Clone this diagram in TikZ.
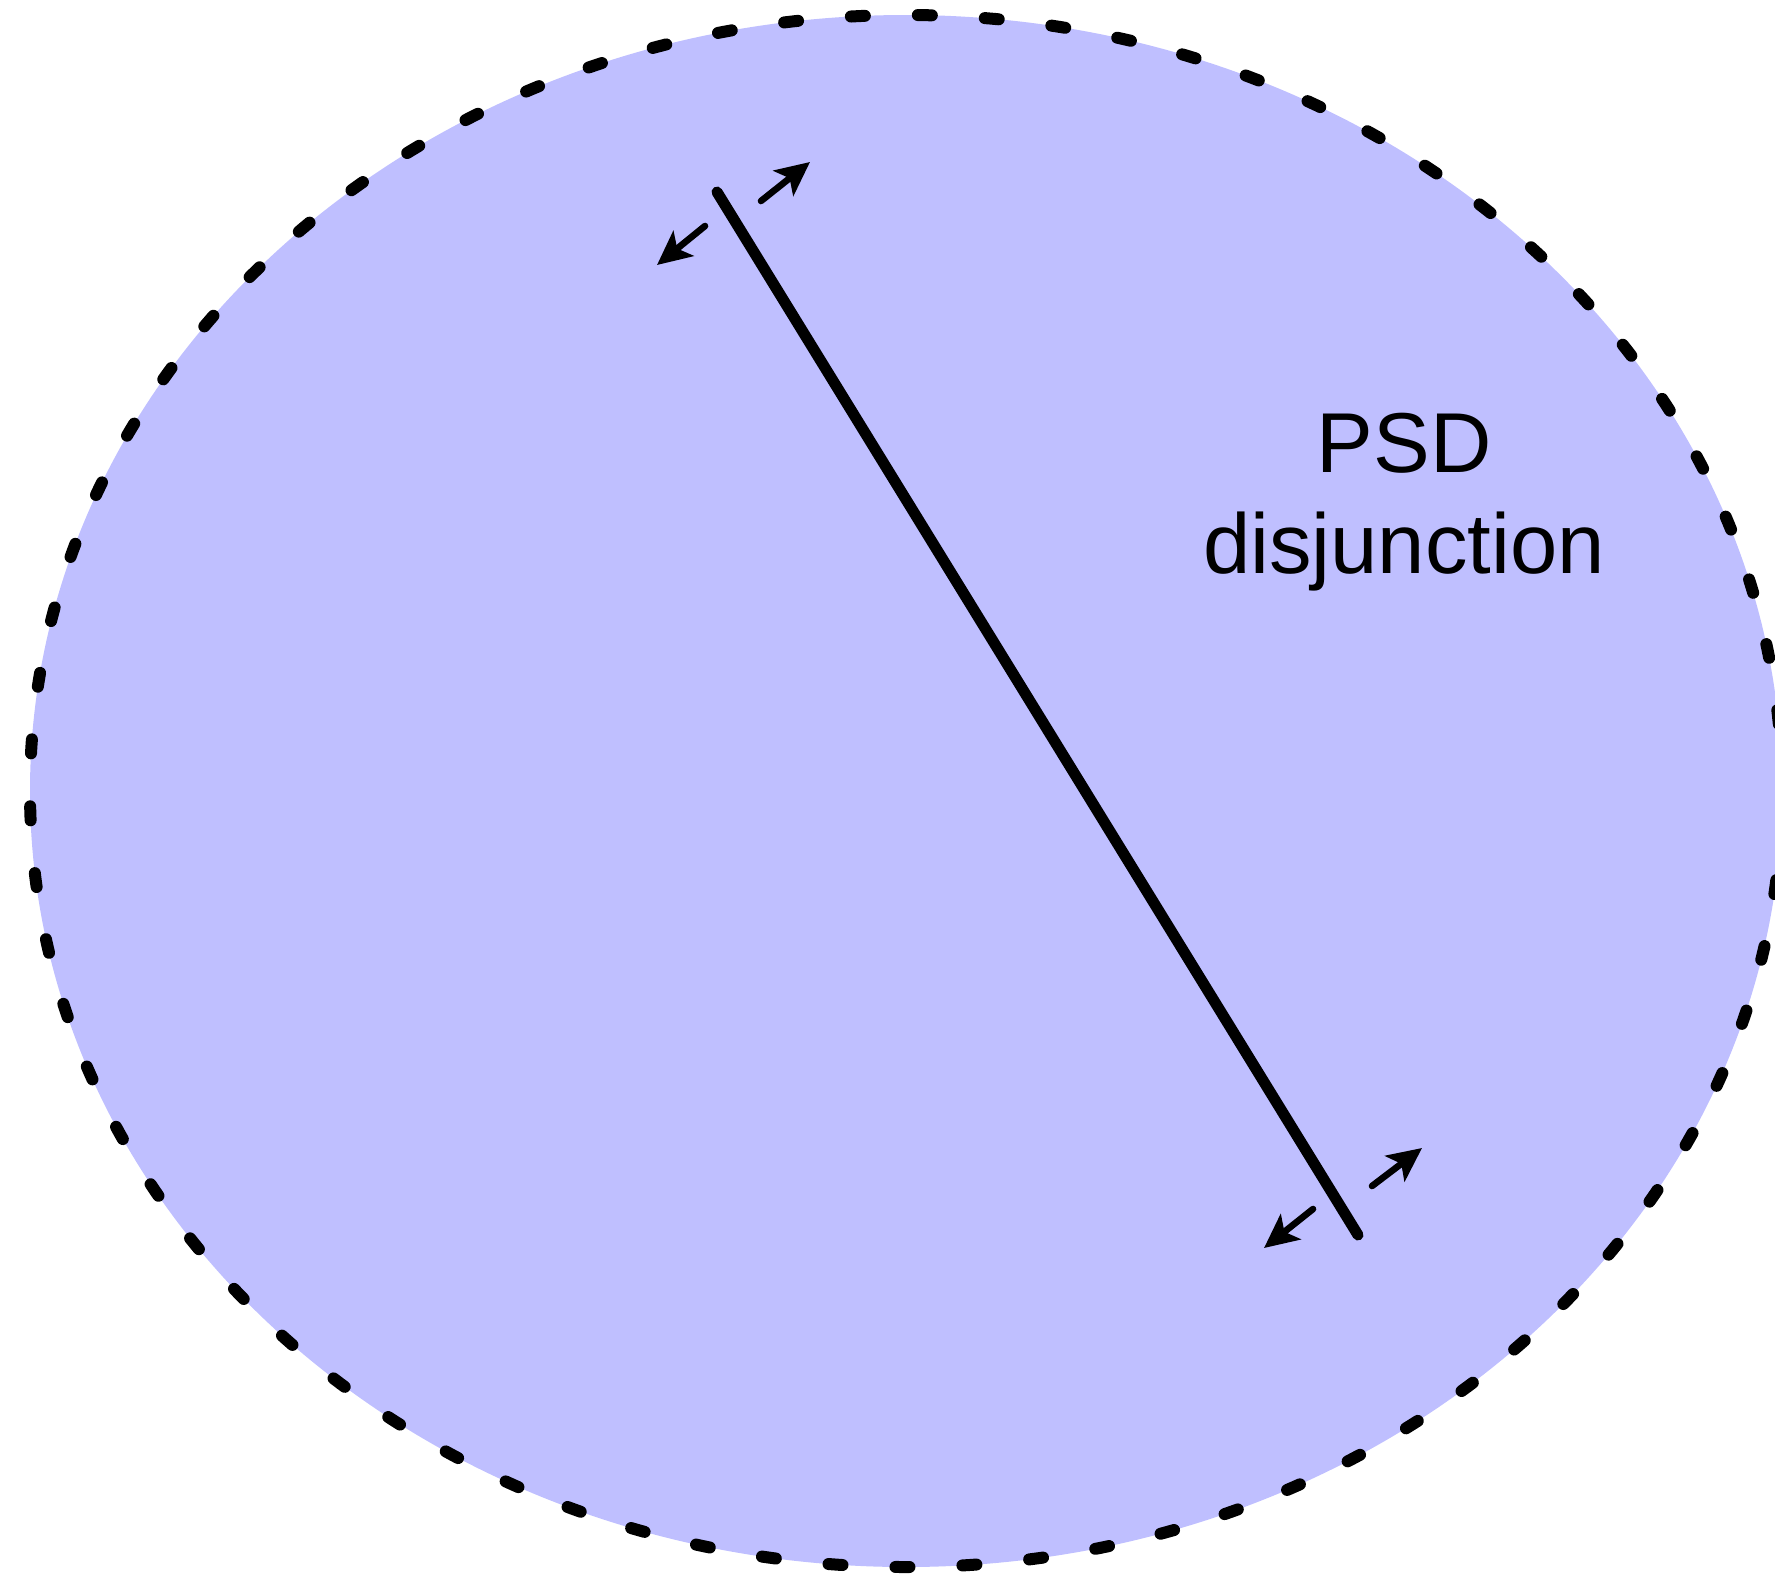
\documentclass[tikz,border=0pt]{standalone}
\usepackage{fontspec}
\setmainfont{Liberation Sans}
\usetikzlibrary{shapes.geometric,arrows.meta}
\definecolor{psdfill}{RGB}{191,191,255}
\tikzset{
  region/.style={ellipse, draw=black, fill=psdfill, line width=6pt, dash pattern=on 7pt off 26.5pt, line cap=round, inner sep=0pt, outer sep=0pt, minimum width=876pt, minimum height=776pt},
  bar/.style={line width=5.5pt, line cap=round},
  push/.style={line width=3.3pt, line cap=round, -{Stealth[length=17pt, width=16pt, inset=4pt]}},
  lbl/.style={font=\fontsize{42.5pt}{51pt}\selectfont, align=center, inner sep=0pt}
}
\begin{document}
\begin{tikzpicture}[x=0.5pt, y=-0.5pt]
\useasboundingbox (0,0) rectangle (1775,1579);
\clip (0,0) rectangle (1775,1579);
\node[region] (psd) at (906,791) {};
\coordinate (a) at (717,192);
\coordinate (b) at (1358,1235);
\draw[bar] (a) -- (b);
\coordinate (a1s) at (705,226);
\coordinate (a1e) at (657,265);
\coordinate (a2s) at (761,201);
\coordinate (a2e) at (810,162);
\coordinate (b1s) at (1313,1209);
\coordinate (b1e) at (1264,1248);
\coordinate (b2s) at (1372,1186);
\coordinate (b2e) at (1422,1148);
\draw[push] (a1s) -- (a1e);
\draw[push] (a2s) -- (a2e);
\draw[push] (b1s) -- (b1e);
\draw[push] (b2s) -- (b2e);
\node[lbl, anchor=base] (t1) at (1404,472) {PSD};
\node[lbl, anchor=base] (t2) at (1404,573) {disjunction};
\end{tikzpicture}
\end{document}
